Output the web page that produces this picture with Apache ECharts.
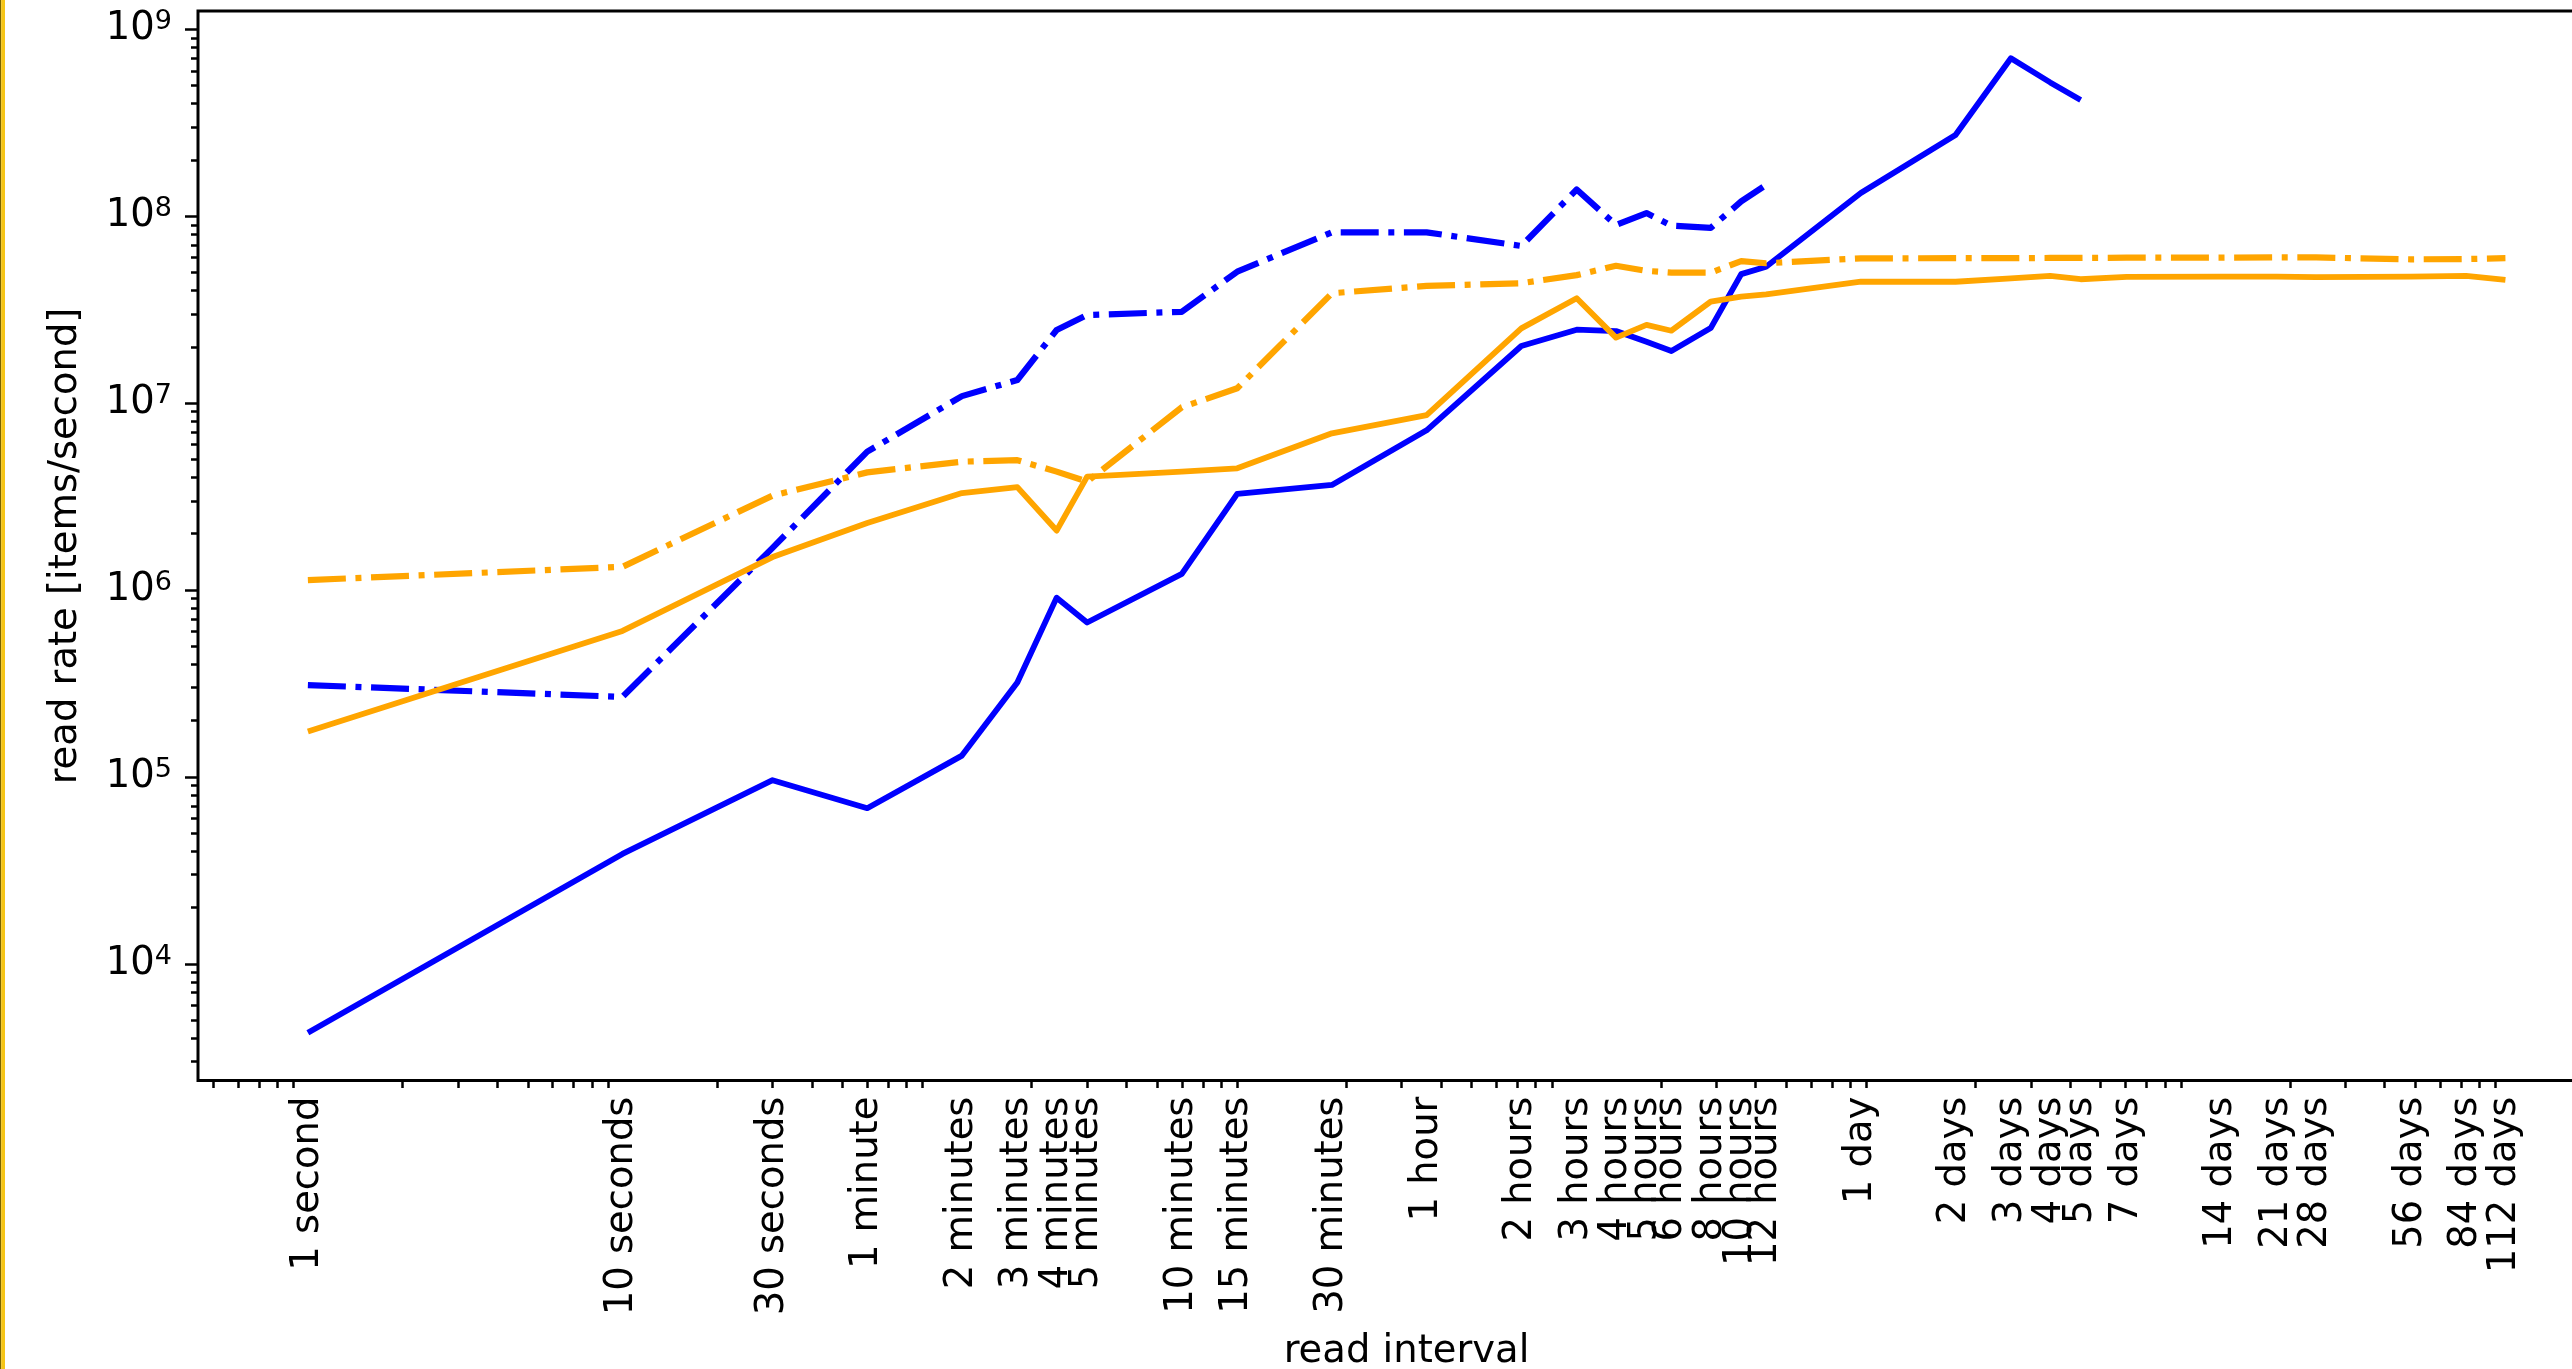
<!DOCTYPE html>
<html>
<head>
<meta charset="utf-8">
<script src="https://cdn.jsdelivr.net/npm/echarts@6/dist/echarts.min.js"></script>
<style>
html,body{margin:0;padding:0;background:#ffffff;overflow:hidden;width:2572px;height:1369px;}
#chart{width:2700px;height:1369px;}
</style>
</head>
<body>
<div id="chart"></div>
<script>
// ---- data ----
const intervalSeconds = [1, 10, 30, 60, 120, 180, 240, 300, 600, 900, 1800, 3600, 7200, 10800, 14400, 18000, 21600, 28800, 36000, 43200, 86400, 172800, 259200, 345600, 432000, 604800, 1209600, 1814400, 2419200, 4838400, 7257600, 9676800];
const intervalLabels = ['1 second', '10 seconds', '30 seconds', '1 minute', '2 minutes', '3 minutes', '4 minutes', '5 minutes', '10 minutes', '15 minutes', '30 minutes', '1 hour', '2 hours', '3 hours', '4 hours', '5 hours', '6 hours', '8 hours', '10 hours', '12 hours', '1 day', '2 days', '3 days', '4 days', '5 days', '7 days', '14 days', '21 days', '28 days', '56 days', '84 days', '112 days'];

const blueSolid = [4.28e3, 3.87e4, 9.6e4, 6.8e4, 1.3e5, 3.2e5, 9.1e5, 6.7e5, 1.22e6, 3.27e6, 3.65e6, 7.15e6, 2.02e7, 2.47e7, 2.43e7, 2.13e7, 1.9e7, 2.52e7, 4.9e7, 5.37e7, 1.33e8, 2.72e8, 7.0e8, 5.2e8, 4.19e8, null, null, null, null, null, null, null];
const blueDashDot = [3.1e5, 2.68e5, 1.68e6, 5.5e6, 1.09e7, 1.33e7, 2.46e7, 2.96e7, 3.08e7, 5.05e7, 8.2e7, 8.2e7, 6.93e7, 1.39e8, 8.97e7, 1.04e8, 8.9e7, 8.67e7, 1.2e8, 1.47e8, null, null, null, null, null, null, null, null, null, null, null, null];
const orangeSolid = [1.75e5, 6.04e5, 1.5e6, 2.28e6, 3.3e6, 3.55e6, 2.08e6, 4.04e6, 4.3e6, 4.48e6, 6.89e6, 8.63e6, 2.51e7, 3.64e7, 2.24e7, 2.62e7, 2.44e7, 3.49e7, 3.71e7, 3.82e7, 4.46e7, 4.46e7, 4.65e7, 4.79e7, 4.6e7, 4.74e7, 4.75e7, 4.75e7, 4.72e7, 4.75e7, 4.79e7, 4.56e7];
const orangeDashDot = [1.13e6, 1.33e6, 3.2e6, 4.26e6, 4.86e6, 4.95e6, 4.3e6, 3.8e6, 9.5e6, 1.2e7, 3.87e7, 4.24e7, 4.38e7, 4.84e7, 5.43e7, 5.1e7, 4.99e7, 4.99e7, 5.75e7, 5.6e7, 5.95e7, 5.96e7, 5.96e7, 5.98e7, 5.98e7, 6.0e7, 6.0e7, 6.02e7, 6.02e7, 5.88e7, 5.9e7, 5.96e7];

const yTickExponents = [4, 5, 6, 7, 8, 9];
const minorMultipliers = [2, 3, 4, 5, 6, 7, 8, 9];

// ---- axis extents (log10 space) ----
const X_LOG_MIN = -0.3493, X_LOG_MAX = 7.335;
const Y_LOG_MIN = 3.375, Y_LOG_MAX = 9.098;

const FONT = 'DejaVu Sans';
const FS = 38.5;

function pairs(values) {
  const out = [];
  intervalSeconds.forEach((s, i) => { if (values[i] != null) out.push([s, values[i]]); });
  return out;
}
function minorLogs(lo, hi) {
  const out = [];
  for (let n = Math.floor(lo) - 1; n <= Math.ceil(hi) + 1; n++) {
    minorMultipliers.forEach(k => {
      const v = Math.log10(k) + n;
      if (v >= lo && v <= hi) out.push(v);
    });
  }
  return out;
}
const xLabelLogs = intervalSeconds.map(s => Math.log10(s));
function xLabelFor(v) {
  let best = 0, bd = Infinity;
  xLabelLogs.forEach((l, i) => { const d = Math.abs(l - v); if (d < bd) { bd = d; best = i; } });
  return intervalLabels[best];
}

const BLUE = '#0000ff', ORANGE = '#ffa500';
const DASHDOT = [38, 9.6, 6, 9.6];

const chart = echarts.init(document.getElementById('chart'), null, {renderer: 'canvas', width: 2700, height: 1369});
const gridBox = {left: 198, top: 11, width: 2417.3, height: 1069.6};
const noLine = {show: false, onZero: false};

chart.setOption({
  animation: false,
  backgroundColor: '#ffffff',
  grid: Object.assign({show: true, borderColor: '#000', borderWidth: 3, backgroundColor: 'transparent', containLabel: false}, gridBox),
  xAxis: [
    {type: 'log', min: Math.pow(10, X_LOG_MIN), max: Math.pow(10, X_LOG_MAX), show: false, position: 'bottom', axisLine: noLine},
    {type: 'value', min: X_LOG_MIN, max: X_LOG_MAX, position: 'bottom',
      axisLine: noLine, axisTick: {show: false}, splitLine: {show: false},
      axisLabel: {customValues: xLabelLogs, rotate: 90, margin: 16, interval: 0, hideOverlap: false,
        fontFamily: FONT, fontSize: FS, color: '#000', formatter: v => xLabelFor(v)}},
    {type: 'value', min: X_LOG_MIN, max: X_LOG_MAX, position: 'bottom',
      axisLine: noLine, splitLine: {show: false}, axisLabel: {show: false},
      axisTick: {show: true, customValues: minorLogs(X_LOG_MIN, X_LOG_MAX), length: 7.5, lineStyle: {color: '#000', width: 2.5}}}
  ],
  yAxis: [
    {type: 'log', min: Math.pow(10, Y_LOG_MIN), max: Math.pow(10, Y_LOG_MAX), show: false, position: 'left', axisLine: noLine},
    {type: 'value', min: Y_LOG_MIN, max: Y_LOG_MAX, position: 'left',
      axisLine: noLine, splitLine: {show: false},
      axisTick: {show: true, customValues: yTickExponents, length: 13, lineStyle: {color: '#000', width: 2.5}},
      axisLabel: {customValues: yTickExponents, margin: 26, fontFamily: FONT, fontSize: FS, color: '#000',
        formatter: v => '{b|10}{s|' + v + '}',
        rich: {
          b: {fontFamily: FONT, fontSize: FS, color: '#000', lineHeight: 46},
          s: {fontFamily: FONT, fontSize: 27, color: '#000', lineHeight: 27, padding: [0, 0, 14, 0]}
        }}},
    {type: 'value', min: Y_LOG_MIN, max: Y_LOG_MAX, position: 'left',
      axisLine: noLine, splitLine: {show: false}, axisLabel: {show: false},
      axisTick: {show: true, customValues: minorLogs(Y_LOG_MIN, Y_LOG_MAX), length: 7, lineStyle: {color: '#000', width: 2.5}}}
  ],
  series: [
    {name: 'blue solid', type: 'line', xAxisIndex: 0, yAxisIndex: 0, data: pairs(blueSolid), showSymbol: false, symbol: 'none',
      lineStyle: {color: BLUE, width: 5.8, type: 'solid', join: 'round'}, z: 2},
    {name: 'blue dash-dot', type: 'line', xAxisIndex: 0, yAxisIndex: 0, data: pairs(blueDashDot), showSymbol: false, symbol: 'none',
      lineStyle: {color: BLUE, width: 6.2, type: DASHDOT, cap: 'butt', join: 'round'}, z: 3},
    {name: 'orange solid', type: 'line', xAxisIndex: 0, yAxisIndex: 0, data: pairs(orangeSolid), showSymbol: false, symbol: 'none',
      lineStyle: {color: ORANGE, width: 5.8, type: 'solid', join: 'round'}, z: 4},
    {name: 'orange dash-dot', type: 'line', xAxisIndex: 0, yAxisIndex: 0, data: pairs(orangeDashDot), showSymbol: false, symbol: 'none',
      lineStyle: {color: ORANGE, width: 6.2, type: DASHDOT, cap: 'butt', join: 'round'}, z: 5}
  ],
  graphic: [
    {type: 'rect', left: 0, top: 0, shape: {x: 0, y: 0, width: 1.2, height: 1369}, style: {fill: '#7a6400'}, z: 100},
    {type: 'rect', left: 1.2, top: 0, shape: {x: 0, y: 0, width: 3.8, height: 1369}, style: {fill: '#f6c516'}, z: 100},
    {type: 'text', x: 1406.5, y: 1352, z: 100,
      style: {text: 'read interval', font: FS + 'px "' + FONT + '"', fill: '#000', textAlign: 'center', textVerticalAlign: 'middle'}},
    {type: 'text', x: 66, y: 546, rotation: Math.PI / 2, z: 100,
      style: {text: 'read rate [items/second]', font: FS + 'px "' + FONT + '"', fill: '#000', textAlign: 'center', textVerticalAlign: 'middle'}}
  ]
});
</script>
</body>
</html>
